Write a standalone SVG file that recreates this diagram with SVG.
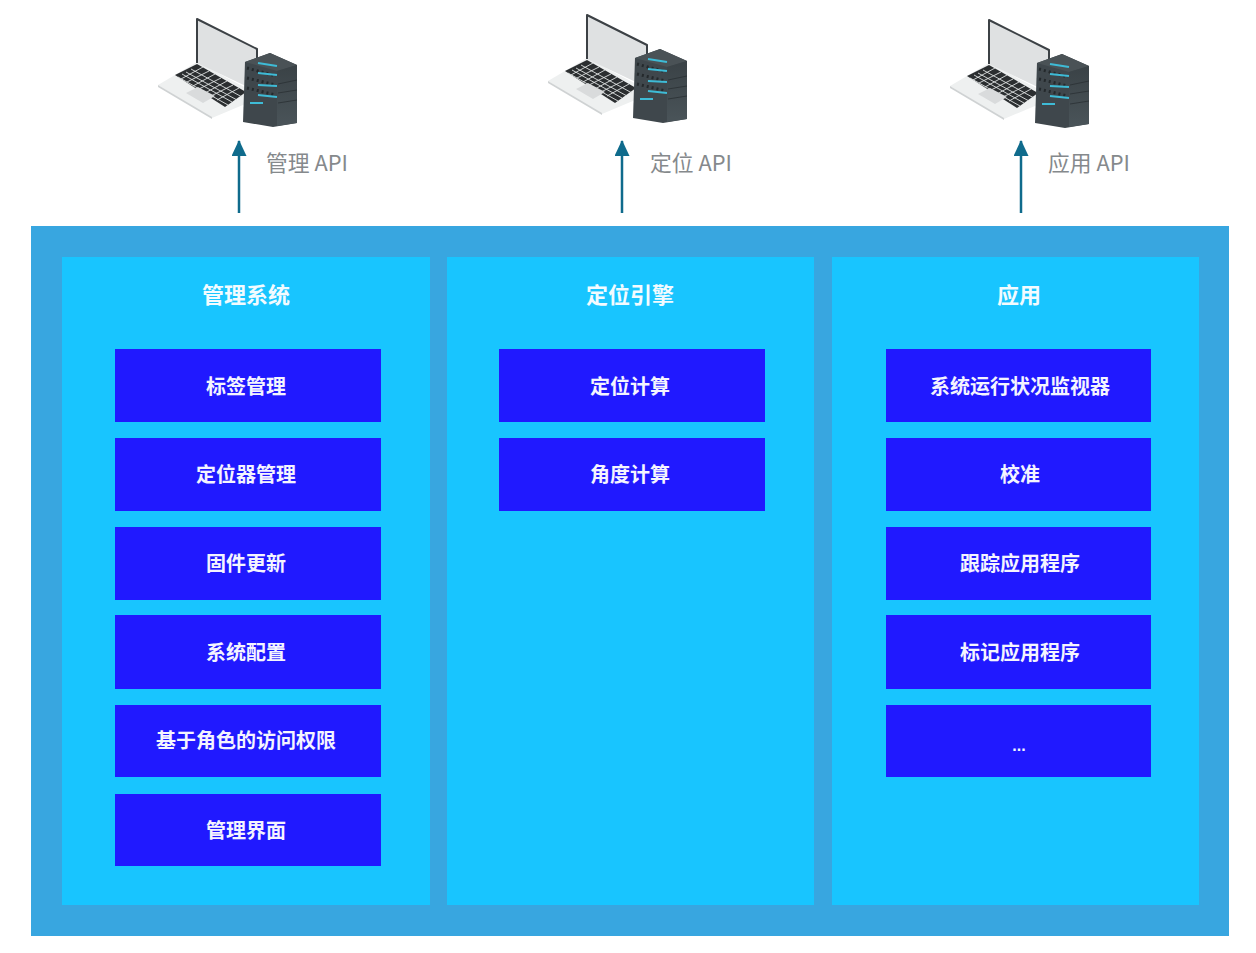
<svg xmlns="http://www.w3.org/2000/svg" width="1256" height="953" viewBox="0 0 1256 953">
<style>
text{font-family:"Noto Sans CJK SC","Liberation Sans",sans-serif;text-anchor:middle}
.t{font-size:22px;font-weight:700;fill:#f2fbff}
.b{font-size:20px;font-weight:700;fill:#f4f4ff}
.api{font-size:21.8px;fill:#85898c;text-anchor:start}
.box{fill:#2019ff}
.panel{fill:#18c5ff}
.arrow{stroke:#0f6b8c;stroke-width:2.5;fill:none;marker-end:url(#ah)}
</style>
<defs>
<marker id="ah" markerUnits="userSpaceOnUse" markerWidth="16" markerHeight="18" refX="15" refY="7.5" orient="auto"><path d="M0 0L16 7.5L0 15Z" fill="#0f6b8c"/></marker>
<linearGradient id="srv" x1="0" x2="0" y1="0" y2="1"><stop offset="0" stop-color="#3a4246"/><stop offset="1" stop-color="#4a5459"/></linearGradient>
<g id="icon">
<path d="M158 85L197 62L250 90V102L212 118Z" fill="#eef0f0"/>
<path d="M158 85L212 117V119L158 87Z" fill="#cfd2d3"/>
<path d="M197 19L257 49L257 62L250 88L197 63Z" fill="#dfe1e2"/>
<path d="M197 63V19L257 49V62" fill="none" stroke="#3c4145" stroke-width="2" stroke-linejoin="round"/>
<path d="M175 75L197 64L246 92L225 107Z" fill="#2b2e30"/>
<g stroke="#dfe2e2" stroke-width="0.9"><path d="M178 77L228 105M182 74L232 102M186 72L237 100M191 69L242 97M203 67L181 79M209 71L187 82M215 74L193 86M221 78L199 89M227 81L205 93M233 85L211 96M239 88L217 100"/></g>
<path d="M186 93L198 87L215 96L203 103Z" fill="#d9dbdc"/>
<path d="M245 62L270 53L297 65V123L273 127L243 122Z" fill="#3f474c"/>
<path d="M245 62L270 53L297 65L277 71Z" fill="#4a5256"/>
<path d="M277 71L297 65V123L277 126Z" fill="url(#srv)"/>
<g stroke="#24292c" stroke-width="3" stroke-dasharray="2 3" fill="none"><path d="M247 68L276 76M247 78L276 85M247 88L276 95"/></g>
<g stroke="#3ebbd6" stroke-width="2.2" fill="none"><path d="M258 63L277 66M258 73L277 75M258 85L277 86M258 95L277 97M250 103L263 103"/></g>
<g stroke="#2a3033" stroke-width="0.8" fill="none"><path d="M278 84L297 80M278 93L297 90M278 103L297 100"/></g>
</g>
</defs>
<rect width="1256" height="953" fill="#fff"/>
<g id="icon-manage"><use href="#icon"/></g>
<g id="icon-locate"><use href="#icon" x="390" y="-4"/></g>
<g id="icon-app"><use href="#icon" x="792" y="1"/></g>
<g id="connectors">
<path class="arrow" d="M239 213V141"/>
<path class="arrow" d="M622 213V141"/>
<path class="arrow" d="M1021 213V141"/>
</g>
<g id="api-labels">
<text class="api" x="266" y="171">管理 API</text>
<text class="api" x="650" y="171">定位 API</text>
<text class="api" x="1048" y="171">应用 API</text>
</g>
<g id="platform"><rect x="31" y="226" width="1198" height="710" fill="#38a6e0"/></g>
<g id="panel-manage"><rect class="panel" x="62" y="257" width="368" height="648"/><text class="t" x="246" y="303">管理系统</text></g>
<g id="panel-locate"><rect class="panel" x="447" y="257" width="367" height="648"/><text class="t" x="630" y="303">定位引擎</text></g>
<g id="panel-app"><rect class="panel" x="832" y="257" width="367" height="648"/><text class="t" x="1019" y="303">应用</text></g>
<g id="m1"><rect class="box" x="115" y="349" width="266" height="73"/><text class="b" x="246" y="394">标签管理</text></g>
<g id="m2"><rect class="box" x="115" y="438" width="266" height="73"/><text class="b" x="246" y="482">定位器管理</text></g>
<g id="m3"><rect class="box" x="115" y="527" width="266" height="73"/><text class="b" x="246" y="571">固件更新</text></g>
<g id="m4"><rect class="box" x="115" y="615" width="266" height="74"/><text class="b" x="246" y="660">系统配置</text></g>
<g id="m5"><rect class="box" x="115" y="705" width="266" height="72"/><text class="b" x="246" y="748">基于角色的访问权限</text></g>
<g id="m6"><rect class="box" x="115" y="794" width="266" height="72"/><text class="b" x="246" y="838">管理界面</text></g>
<g id="l1"><rect class="box" x="499" y="349" width="266" height="73"/><text class="b" x="630" y="394">定位计算</text></g>
<g id="l2"><rect class="box" x="499" y="438" width="266" height="73"/><text class="b" x="630" y="482">角度计算</text></g>
<g id="a1"><rect class="box" x="886" y="349" width="265" height="73"/><text class="b" x="1020" y="394">系统运行状况监视器</text></g>
<g id="a2"><rect class="box" x="886" y="438" width="265" height="73"/><text class="b" x="1020" y="482">校准</text></g>
<g id="a3"><rect class="box" x="886" y="527" width="265" height="73"/><text class="b" x="1020" y="571">跟踪应用程序</text></g>
<g id="a4"><rect class="box" x="886" y="615" width="265" height="74"/><text class="b" x="1020" y="660">标记应用程序</text></g>
<g id="a5"><rect class="box" x="886" y="705" width="265" height="72"/><text class="b" x="1019" y="751" style="font-family:'Liberation Sans',sans-serif;font-size:16px">...</text></g>
</svg>
